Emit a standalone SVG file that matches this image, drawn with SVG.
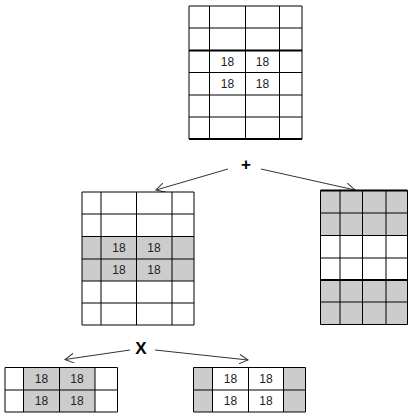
<svg xmlns="http://www.w3.org/2000/svg" width="420" height="420" viewBox="0 0 420 420">
<defs>
<marker id="ah" viewBox="0 0 10 10" refX="9" refY="5" markerWidth="10" markerHeight="10" markerUnits="userSpaceOnUse" orient="auto">
<path d="M0,0 L9,5 L0,10" fill="none" stroke="#333" stroke-width="1"/>
</marker>
</defs>
<style>
.g{fill:#cccccc}
.w{fill:#ffffff}
.ln{stroke:#000;stroke-width:1;fill:none}
.tk{stroke:#000;stroke-width:2.2;fill:none}
.t{font-family:"Liberation Sans",Arial,sans-serif;font-size:12px;fill:#222;text-anchor:middle}
.op{font-family:"Liberation Sans",Arial,sans-serif;font-size:17px;font-weight:bold;fill:#000;text-anchor:middle}
.c{stroke:#333;stroke-width:1;fill:none}
</style>
<rect width="420" height="420" fill="#fff"/>

<g id="top">
<rect x="189" y="6" width="113" height="133" class="w"/>
<path class="ln" d="M189,6 H302 V139 H189 Z M209.5,6 V139 M245.5,6 V139 M279.5,6 V139 M189,28 H302 M189,72.5 H302 M189,95 H302 M189,117 H302"/>
<path class="tk" d="M189,50.5 H302 M189,139 H302"/>
<text class="t" x="227.5" y="66">18</text><text class="t" x="262.5" y="66">18</text>
<text class="t" x="227.5" y="88">18</text><text class="t" x="262.5" y="88">18</text>
</g>

<g id="ops">
<text class="op" x="246" y="170">+</text>
<text class="op" x="141" y="354">X</text>
</g>

<g id="connectors">
<line class="c" x1="228" y1="169" x2="156" y2="190" marker-end="url(#ah)"/>
<line class="c" x1="261" y1="169" x2="355" y2="190" marker-end="url(#ah)"/>
<line class="c" x1="130" y1="350" x2="65" y2="359.5" marker-end="url(#ah)"/>
<line class="c" x1="155" y1="350" x2="248" y2="360" marker-end="url(#ah)"/>
</g>

<g id="midleft">
<rect x="82" y="192" width="112" height="133" class="w"/>
<rect x="82" y="236.5" width="112" height="44.5" class="g"/>
<path class="ln" d="M82,192 H194 V325 H82 Z M101,192 V325 M136.5,192 V325 M172,192 V325 M82,214 H194 M82,236.5 H194 M82,259 H194 M82,281 H194 M82,303 H194"/>
<text class="t" x="119" y="252">18</text><text class="t" x="154" y="252">18</text>
<text class="t" x="119" y="274">18</text><text class="t" x="154" y="274">18</text>
</g>

<g id="midright">
<rect x="320.5" y="190.5" width="87" height="134" class="g"/>
<rect x="320.5" y="235.5" width="87" height="44.5" class="w"/>
<path class="ln" d="M320.5,190.5 H407.5 V324.5 H320.5 Z M340,190.5 V324.5 M362.5,190.5 V324.5 M386,190.5 V324.5 M320.5,213 H407.5 M320.5,235.5 H407.5 M320.5,258 H407.5 M320.5,302 H407.5"/>
<path class="tk" d="M320.5,190.5 H407.5 M320.5,280 H407.5"/>
</g>

<g id="botleft">
<rect x="5" y="367.5" width="112.5" height="44.5" class="w"/>
<rect x="23.5" y="367.5" width="71.5" height="44.5" class="g"/>
<path class="ln" d="M5,367.5 H117.5 V412 H5 Z M23.5,367.5 V412 M59.5,367.5 V412 M95,367.5 V412 M5,390 H117.5"/>
<text class="t" x="41.5" y="383">18</text><text class="t" x="77" y="383">18</text>
<text class="t" x="41.5" y="405">18</text><text class="t" x="77" y="405">18</text>
</g>

<g id="botright">
<rect x="193.5" y="367.5" width="112" height="44.5" class="g"/>
<rect x="212.5" y="367.5" width="71" height="44.5" class="w"/>
<path class="ln" d="M193.5,367.5 H305.5 V412 H193.5 Z M212.5,367.5 V412 M248.5,367.5 V412 M283.5,367.5 V412 M193.5,390 H305.5"/>
<text class="t" x="230.5" y="383">18</text><text class="t" x="266" y="383">18</text>
<text class="t" x="230.5" y="405">18</text><text class="t" x="266" y="405">18</text>
</g>
</svg>
